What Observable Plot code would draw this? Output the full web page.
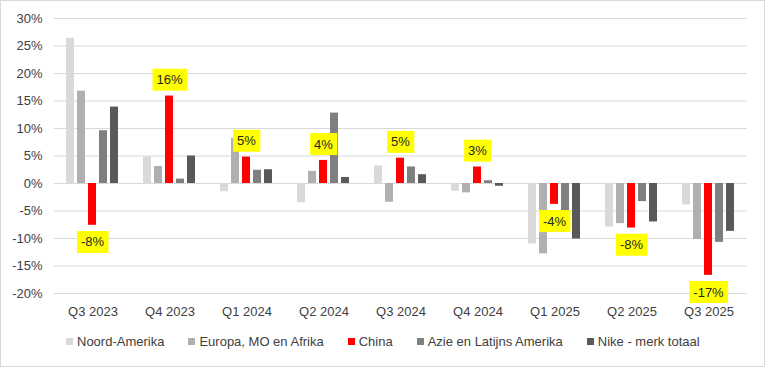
<!DOCTYPE html>
<html>
<head>
<meta charset="utf-8">
<script src="https://cdn.jsdelivr.net/npm/d3@7"></script>
<script src="https://cdn.jsdelivr.net/npm/@observablehq/plot@0.6"></script>
<style>
  html, body { margin: 0; padding: 0; background: #fff; }
  body { width: 765px; height: 367px; position: relative; overflow: hidden; font-family: "Liberation Sans", Arial, sans-serif; }
  #frame { position: absolute; left: 0; top: 0; width: 765px; height: 367px; box-sizing: border-box; border: 1px solid #d9d9d9; pointer-events: none; }
  #legend { position: absolute; left: 66px; top: 333px; }
  .lg-swatches { font-family: "Liberation Sans", Arial, sans-serif !important; font-size: 13px !important; color: #404040 !important; margin: 0 !important; }
  .lg-swatches-wrap { min-height: 16px !important; display: flex !important; align-items: center !important; flex-wrap: nowrap !important; }
  .lg-swatch { margin-right: 24px !important; display: inline-flex !important; align-items: center !important; white-space: nowrap; }
  .lg-swatch > svg { margin-right: 4px !important; }
</style>
</head>
<body>
<div id="chart"></div>
<div id="legend"></div>
<div id="frame"></div>
<script>
const quarters = ["Q3 2023", "Q4 2023", "Q1 2024", "Q2 2024", "Q3 2024", "Q4 2024", "Q1 2025", "Q2 2025", "Q3 2025"];
const series = ["Noord-Amerika", "Europa, MO en Afrika", "China", "Azie en Latijns Amerika", "Nike - merk totaal"];
const colors = ["#d9d9d9", "#afafaf", "#ff0000", "#7f7f7f", "#595959"];

const noordAmerika = [26.4, 4.8, -1.5, -3.5, 3.2, -1.4, -11.0, -7.9, -3.9];
const europaMOAfrika = [16.8, 3.1, 8.2, 2.2, -3.4, -1.7, -12.8, -7.3, -10.2];
const china = [-7.6, 15.9, 4.8, 4.2, 4.6, 3.0, -3.8, -8.1, -16.7];
const azieLatijnsAmerika = [9.6, 0.8, 2.4, 12.8, 3.0, 0.5, -6.9, -3.3, -10.7];
const nikeTotaal = [13.9, 5.0, 2.5, 1.1, 1.6, -0.5, -10.1, -7.0, -8.7];

const yTicks = [-20, -15, -10, -5, 0, 5, 10, 15, 20, 25, 30];

const seriesValues = [noordAmerika, europaMOAfrika, china, azieLatijnsAmerika, nikeTotaal];
const rows = quarters.flatMap((q, i) => series.map((s, j) => ({quarter: q, series: s, value: seriesValues[j][i]})));
const chinaRows = rows.filter(d => d.series === "China").map(d => ({...d, label: Math.round(d.value) + "%"}));

const chart = Plot.plot({
  width: 765,
  height: 325,
  marginTop: 18,
  marginBottom: 32,
  marginLeft: 53,
  marginRight: 18,
  style: {fontFamily: "Liberation Sans, Arial, sans-serif", fontSize: "13px", color: "#404040", background: "transparent"},
  fx: {domain: quarters, padding: 0, label: null},
  x: {domain: series, paddingInner: 0.23, paddingOuter: 0.9, axis: null},
  y: {domain: [-20, 30], label: null},
  color: {domain: series, range: colors},
  marks: [
    Plot.gridY(yTicks, {stroke: "#d9d9d9", strokeOpacity: 1, strokeWidth: 1.2}),
    Plot.axisY(yTicks, {tickSize: 0, tickPadding: 12, tickFormat: d => d + "%", label: null, fill: "#404040"}),
    Plot.axisFx({anchor: "bottom", tickSize: 0, tickPadding: 13, label: null, fill: "#404040"}),
    Plot.barY(rows, {fx: "quarter", x: "series", y: "value", fill: "series"}),
    Plot.text(chinaRows.filter(d => d.value >= 0), {fx: "quarter", x: "series", y: "value", text: "label", dy: -16, fill: "#262626", fontSize: 13}),
    Plot.text(chinaRows.filter(d => d.value < 0), {fx: "quarter", x: "series", y: "value", text: "label", dy: 17, fill: "#262626", fontSize: 13})
  ]
});
document.getElementById("chart").appendChild(chart);

// yellow label boxes behind the labels
chart.querySelectorAll('g[aria-label="text"] text').forEach(t => {
  const b = t.getBBox();
  const r = document.createElementNS("http://www.w3.org/2000/svg", "rect");
  const padX = 4, h = 22;
  r.setAttribute("x", b.x - padX);
  r.setAttribute("y", b.y + b.height / 2 - h / 2);
  r.setAttribute("width", b.width + 2 * padX);
  r.setAttribute("height", h);
  r.setAttribute("fill", "#ffff00");
  if (t.getAttribute("transform")) r.setAttribute("transform", t.getAttribute("transform"));
  t.parentNode.insertBefore(r, t);
});

const legend = Plot.legend({
  color: {domain: series, range: colors, type: "categorical"},
  legend: "swatches",
  swatchSize: 7,
  className: "lg"
});
document.getElementById("legend").appendChild(legend);
</script>
</body>
</html>
